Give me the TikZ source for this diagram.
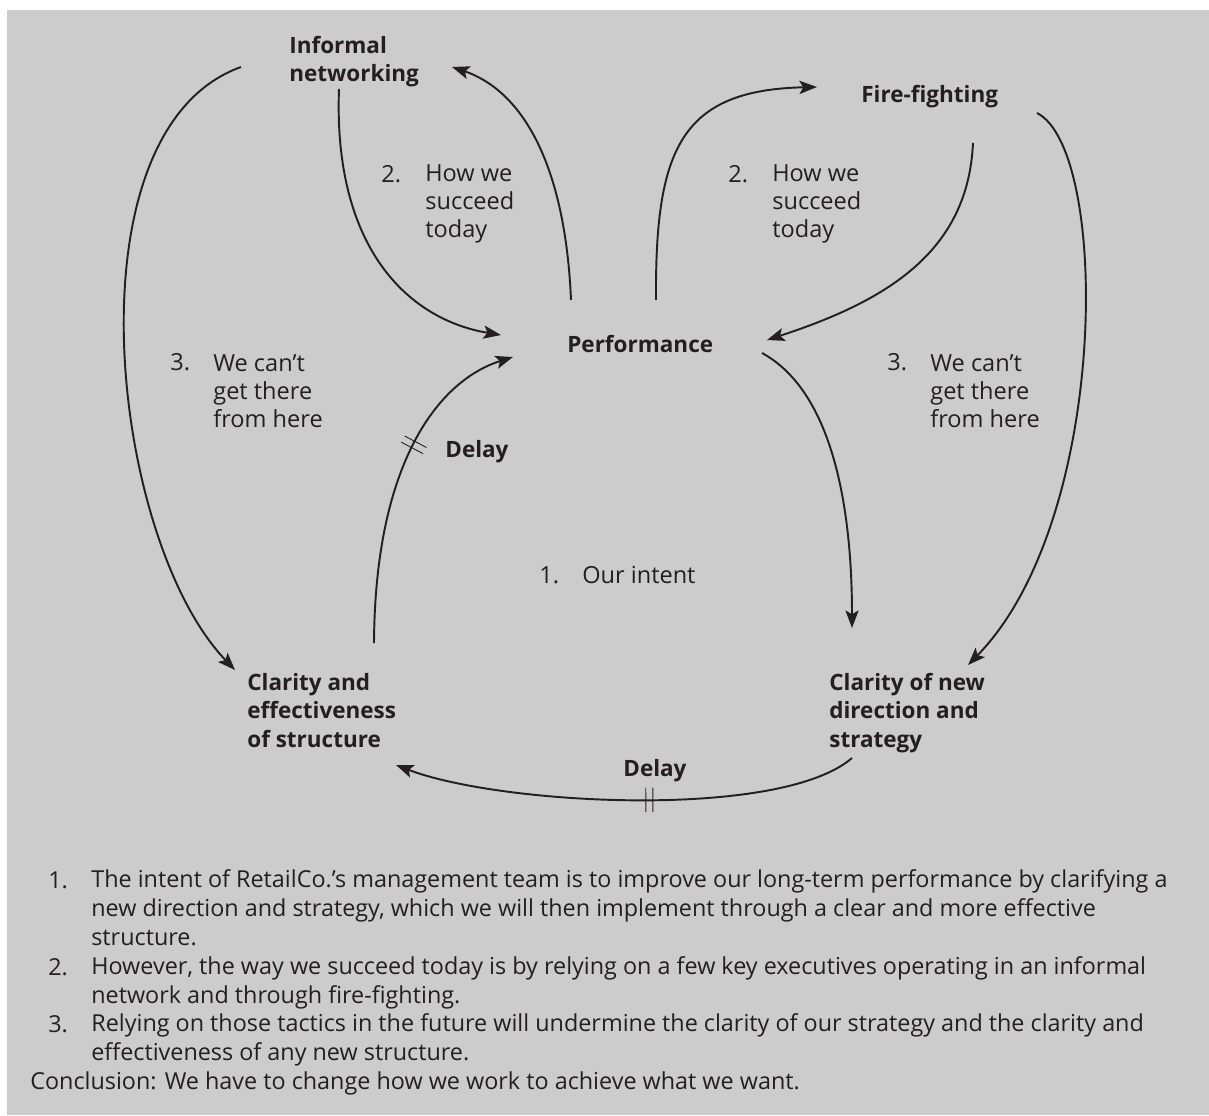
\documentclass[tikz,border=0pt]{standalone}
\usepackage{fontspec}
\setmainfont{Open Sans}
\usetikzlibrary{arrows.meta,decorations.markings}
\definecolor{boxgray}{RGB}{204,204,204}
\definecolor{ink}{RGB}{35,31,32}

% multi-line nodes: base = baseline of the last line
\tikzset{
  lbl/.style={anchor=base west, inner sep=0pt, align=left, text=ink,
    font=\fontsize{13.4}{15.8}\selectfont},
  key/.style={lbl, font=\fontsize{12.8}{16}\selectfont\bfseries},
  note/.style={lbl, font=\fontsize{13.3}{16.3}\selectfont},
  link/.style={draw=ink, line width=1.1pt, -{Stealth[length=10pt,width=7.5pt,inset=2.2pt]}},
  delaymark/.style={postaction={decorate}, decoration={markings,
    mark=at position #1 with {\draw[-, line width=0.5pt]
      (-2pt,-7pt) -- (-2pt,7pt) (2pt,-7pt) -- (2pt,7pt);}}}
}

\begin{document}
\begin{tikzpicture}[x=0.02cm, y=-0.02cm]
        \useasboundingbox (0,0) rectangle (1209,1115);
        \fill[boxgray] (7,10) rectangle (1209,1115);

        % Loop variables
        \node[key] (inform) at (289,82) {Informal\\networking};
        \node[key] (fire) at (861,102) {Fire-fighting};
        \node[key] (perf) at (567,352) {Performance};
        \node[key] (struct) at (247,747) {Clarity and\\effectiveness\\of structure};
        \node[key] (strat) at (829,747) {Clarity of new\\direction and\\strategy};
        \node[key] (delayl) at (445,457) {Delay};
        \node[key] (delayb) at (623,776) {Delay};

        % Loop labels
        \node[lbl] (n2l) at (381,182) {2.};
        \node[lbl] (t2l) at (425,237) {How we\\succeed\\today};
        \node[lbl] (n2r) at (728,182) {2.};
        \node[lbl] (t2r) at (772,237) {How we\\succeed\\today};
        \node[lbl] (n3l) at (170,370) {3.};
        \node[lbl] (t3l) at (213,427) {We can’t\\get there\\from here};
        \node[lbl] (n3r) at (887,370) {3.};
        \node[lbl] (t3r) at (930,427) {We can’t\\get there\\from here};
        \node[lbl] (n1) at (539,583) {1.};
        \node[lbl] (t1) at (582,583) {Our intent};

        % Links
        \draw[link] ([shift={(50,7)}]inform.base west) .. controls (333,250) and (410,320) .. ([shift={(-66,-17)}]perf.base west);
        \draw[link] ([shift={(4,-52)}]perf.base west) .. controls (565,160) and (520,90) .. ([shift={(163,-15)}]inform.base west);
        \draw[link] ([shift={(89,-52)}]perf.base west) .. controls (655,150) and (680,90) .. ([shift={(-44,-15)}]fire.base west);
        \draw[link] ([shift={(112,41)}]fire.base west) .. controls (968,250) and (890,300) .. ([shift={(200,-12)}]perf.base west);
        \draw[link] ([shift={(176,11)}]fire.base west) .. controls (1110,150) and (1110,520) .. ([shift={(139,-82)}]strat.base west);
        \draw[link] ([shift={(195,1)}]perf.base west) .. controls (830,390) and (852,500) .. ([shift={(23,-119)}]strat.base west);
        \draw[link] ([shift={(-48,-15)}]inform.base west) .. controls (65,130) and (110,540) .. ([shift={(-12,-77)}]struct.base west);
        \draw[link, delaymark=0.6] ([shift={(127,-104)}]struct.base west) .. controls (375,460) and (440,380) .. ([shift={(-54,5)}]perf.base west);
        \draw[link, delaymark=0.45] ([shift={(23,11)}]strat.base west) .. controls (780,820) and (500,805) .. ([shift={(149,18)}]struct.base west);

        % Notes
        \node[note] (m1) at (48,888) {1.};
        \node[note] (p1) at (91,945) {The intent of RetailCo.’s management team is to improve our long-term performance by clarifying a\\new direction and strategy, which we will then implement through a clear and more effective\\structure.};
        \node[note] (m2) at (48,975) {2.};
        \node[note] (p2) at (91,1003) {However, the way we succeed today is by relying on a few key executives operating in an informal\\network and through fire-fighting.};
        \node[note] (m3) at (48,1032) {3.};
        \node[note] (p3) at (91,1060) {Relying on those tactics in the future will undermine the clarity of our strategy and the clarity and\\effectiveness of any new structure.};
        \node[note] (concl) at (30,1089) {Conclusion: We have to change how we work to achieve what we want.};
    \end{tikzpicture}
\end{document}
